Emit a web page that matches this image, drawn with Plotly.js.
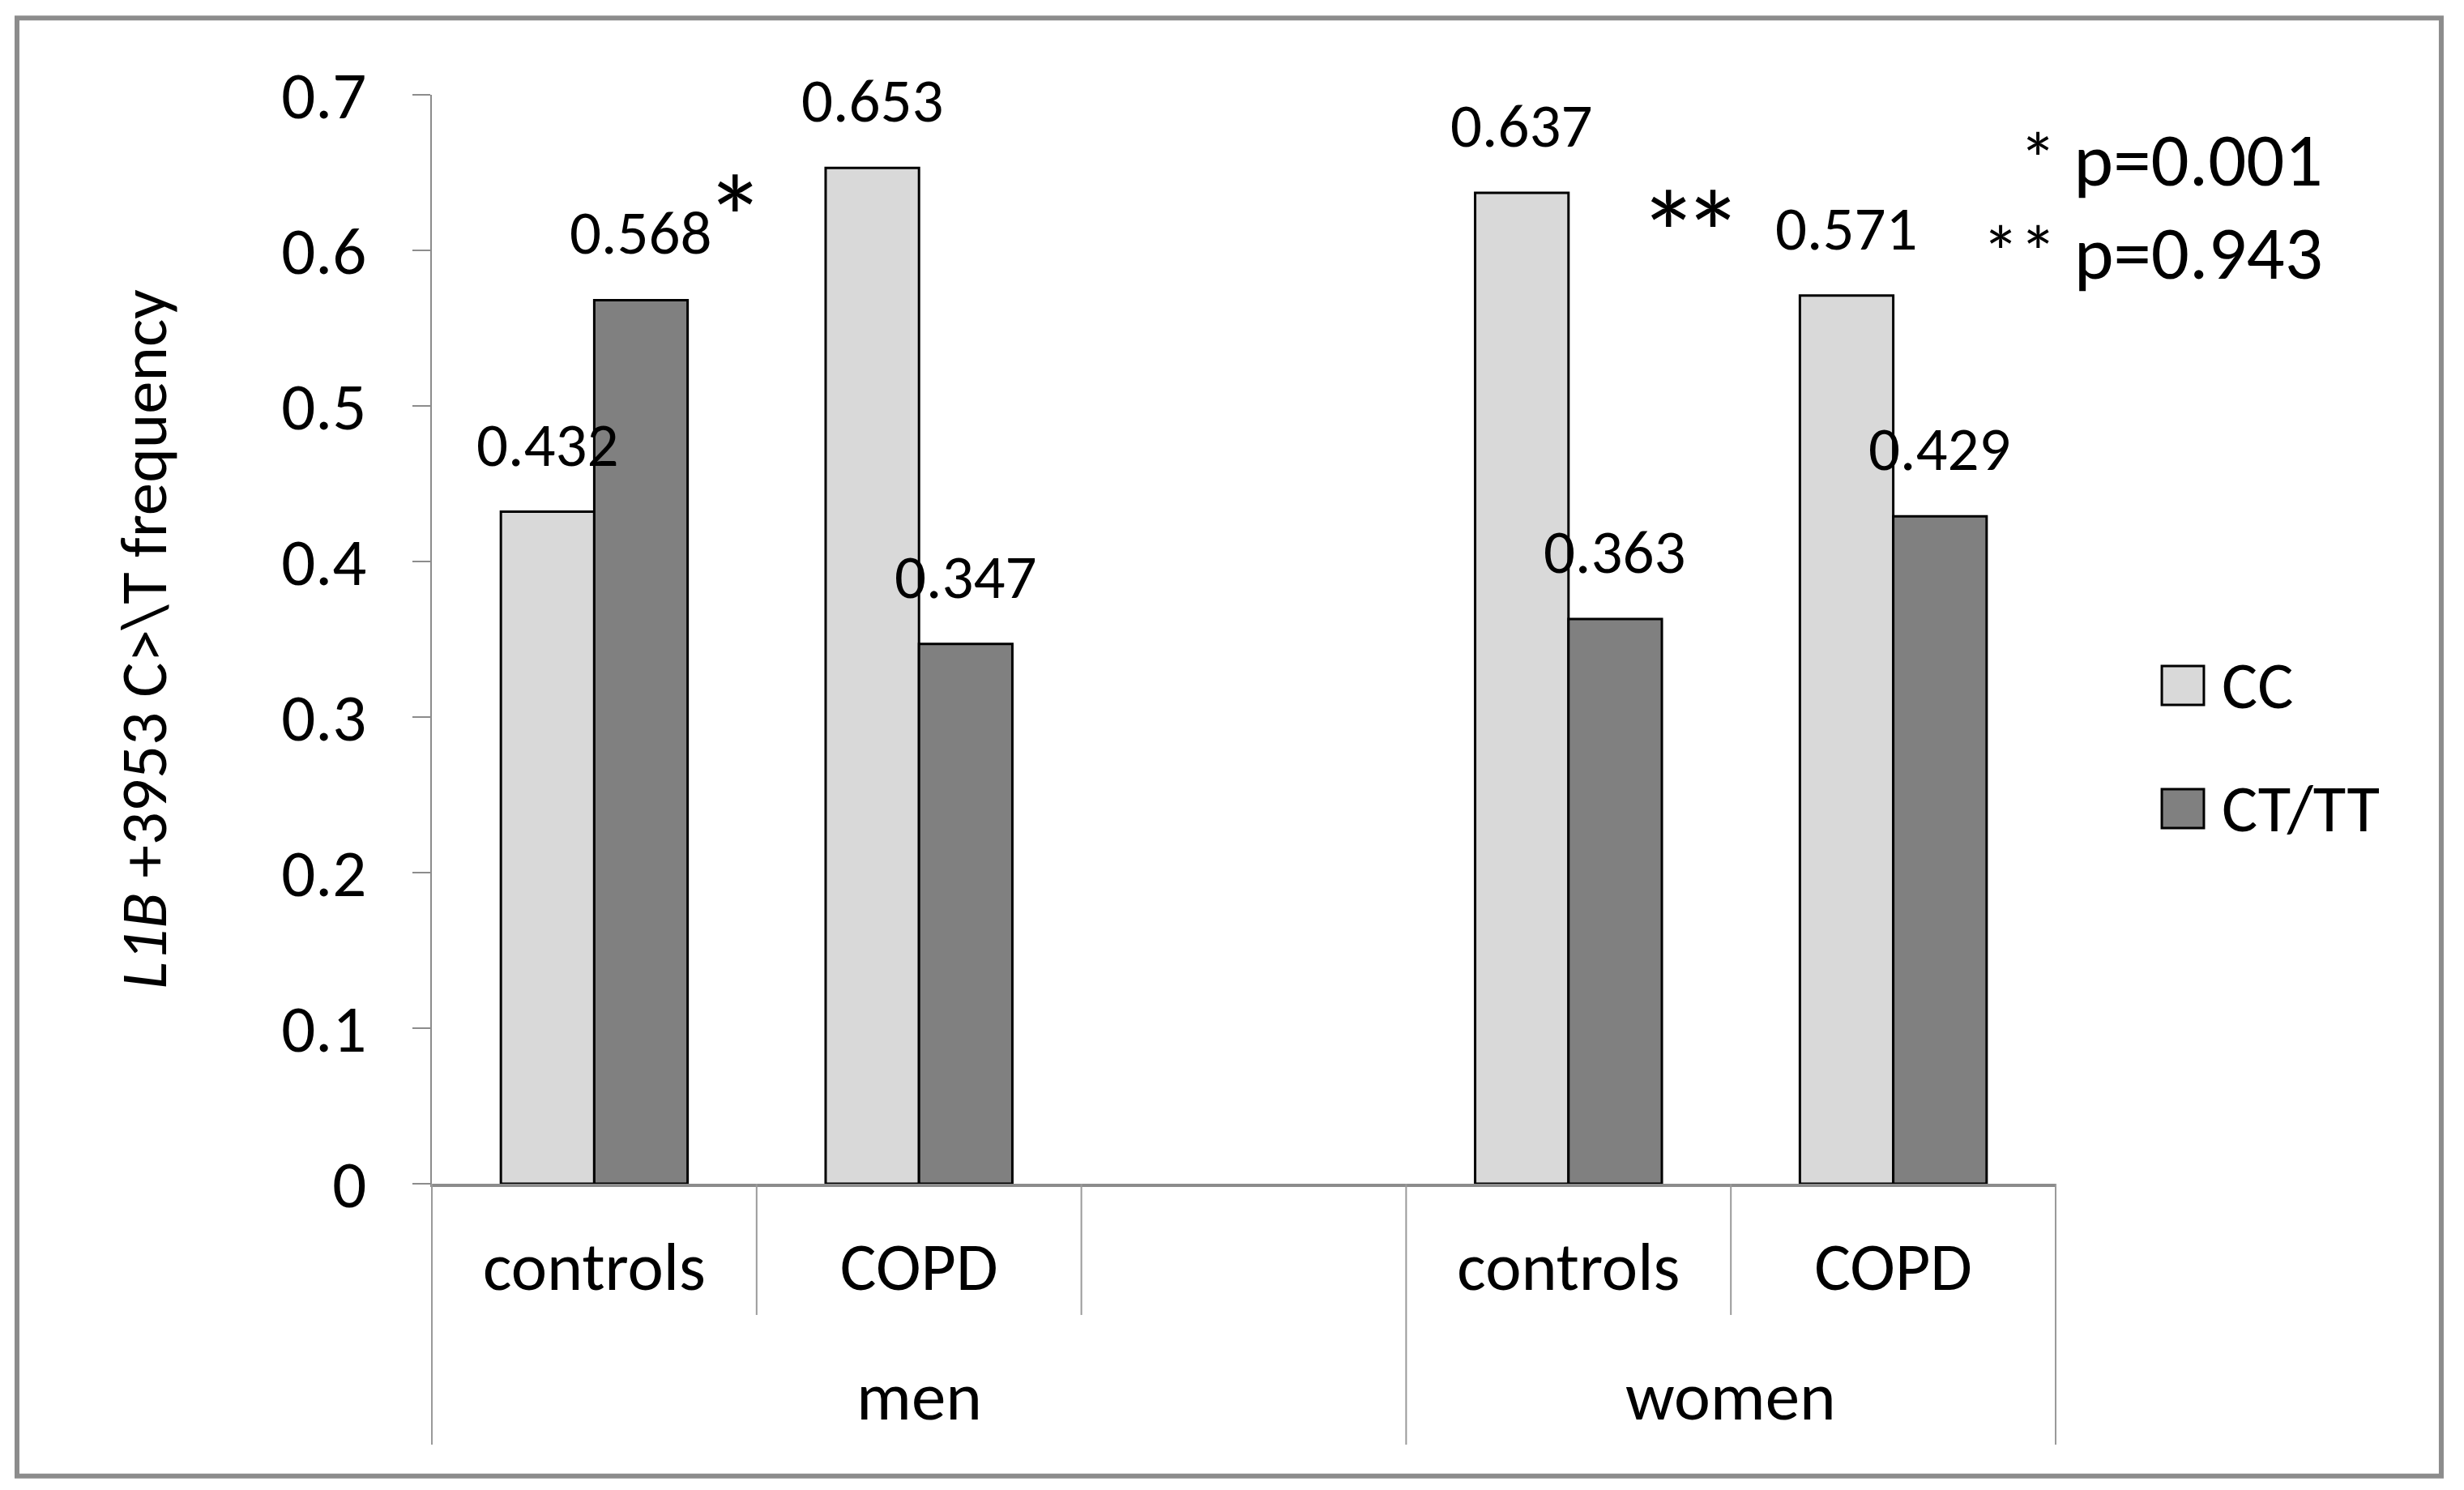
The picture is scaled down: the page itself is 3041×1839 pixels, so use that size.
<!DOCTYPE html>
<html>
<head>
<meta charset="utf-8">
<script src="https://cdn.plot.ly/plotly-3.0.1.min.js"></script>
<style>html,body{margin:0;padding:0;background:#fff;}#chart{width:3041px;height:1839px;}</style>
</head>
<body>
<div id="chart"></div>
<script>
// ---- data ----
const categories = ["controls", "COPD", "", "controls", "COPD"];
const groups = ["men", "men", "men", "women", "women"];
const seriesNames = ["CC", "CT/TT"];
const ccValues = [0.432, 0.653, null, 0.637, 0.571];
const ctValues = [0.568, 0.347, null, 0.363, 0.429];
const yTickVals = [0, 0.1, 0.2, 0.3, 0.4, 0.5, 0.6, 0.7];
const yTickText = ["0", "0.1", "0.2", "0.3", "0.4", "0.5", "0.6", "0.7"];
const pValueNotes = ["* p=0.001", "** p=0.943"];
const yTitle = "<i>L1B</i> +3953 C>\\T frequency";

// ---- styles ----
const FONT = "Carlito, Lato, 'Open Sans', sans-serif";
const colors = ["#d9d9d9", "#808080"];
const bargap = 0.425;
const xIdx = categories.map((_, i) => i);
const xRange = [-0.5, categories.length - 0.5];
const barW = (1 - bargap) / 2;

const seriesValues = [ccValues, ctValues];
const traces = seriesValues.map((vals, s) => ({
  type: "bar",
  name: seriesNames[s],
  x: xIdx,
  y: vals,
  marker: { color: colors[s], line: { color: "#000", width: 3 } },
  showlegend: false,
  hoverinfo: "skip"
}));

const annotations = [];
// value labels
seriesValues.forEach((vals, s) => {
  vals.forEach((v, i) => {
    if (v === null) return;
    annotations.push({
      x: i + (s === 0 ? -1 : 1) * barW / 2, y: v, xref: "x", yref: "y",
      xanchor: "center", yanchor: "middle",
      text: v.toFixed(3), showarrow: false, yshift: 83,
      font: { family: FONT, size: 77, color: "#000" }
    });
  });
});
// significance markers
annotations.push({ x: 0.435, y: 0.62, xref: "x", yref: "y", xanchor: "center", yanchor: "middle",
  text: "*", showarrow: false, font: { family: FONT, size: 150, color: "#000" } });
annotations.push({ x: 3.3575, y: 0.61, xref: "x", yref: "y", xanchor: "center", yanchor: "middle",
  text: '<span style="letter-spacing:-20px">**</span>', showarrow: false,
  font: { family: FONT, size: 150, color: "#000" } });
// p-value notes
[0.9405, 0.855].forEach((yy, k) => annotations.push({
  x: 1.1657, y: yy, xref: "paper", yref: "paper", xanchor: "right", yanchor: "middle",
  text: pValueNotes[k], showarrow: false, font: { family: FONT, size: 93, color: "#000" }
}));
// group labels
const groupNames = [...new Set(groups)];
groupNames.forEach(g => {
  const idx = xIdx.filter(i => groups[i] === g);
  const center = (idx[0] + idx[idx.length - 1]) / 2;
  annotations.push({ x: center, y: -0.195, xref: "x", yref: "paper", xanchor: "center", yanchor: "middle",
    text: g, showarrow: false, font: { family: FONT, size: 85, color: "#000" } });
});
// manual legend text
const legendY = [0.4576, 0.3445];
seriesNames.forEach((n, s) => annotations.push({
  x: 1.1013, y: legendY[s], xref: "paper", yref: "paper", xanchor: "left", yanchor: "middle",
  text: n, showarrow: false, font: { family: FONT, size: 83, color: "#000" }
}));

const shapes = [];
// category dividers below axis
const toPaper = v => (v - xRange[0]) / (xRange[1] - xRange[0]);
for (let b = 0; b <= categories.length; b++) {
  const isGroup = b === 0 || b === categories.length || groups[b] !== groups[b - 1];
  const xp = toPaper(b - 0.5);
  shapes.push({ type: "line", xref: "paper", yref: "paper", x0: xp, x1: xp, y0: 0,
    y1: isGroup ? -0.2396 : -0.1205, line: { color: "#9a9a9a", width: 2 } });
}
// legend swatches
const swY = [[0.4397, 0.4754], [0.3266, 0.3624]];
seriesNames.forEach((n, s) => shapes.push({
  type: "rect", xref: "paper", yref: "paper", x0: 1.0654, x1: 1.0913, y0: swY[s][0], y1: swY[s][1],
  fillcolor: colors[s], line: { color: "#000", width: 3 }
}));
// outer frame
shapes.push({ type: "rect", xref: "paper", yref: "paper", x0: -0.2555, x1: 1.2375, y0: -0.2685, y1: 1.0705,
  line: { color: "#8c8c8c", width: 6 }, fillcolor: "rgba(0,0,0,0)" });

const layout = {
  width: 3041, height: 1839,
  margin: { l: 533, r: 504, t: 117, b: 378 },
  paper_bgcolor: "#fff", plot_bgcolor: "#fff",
  barmode: "group", bargap: bargap, bargroupgap: 0,
  showlegend: false,
  font: { family: FONT, color: "#000" },
  xaxis: {
    type: "linear", range: xRange, tickvals: xIdx, ticktext: categories,
    ticks: "", showgrid: false, zeroline: false,
    showline: true, linecolor: "#8c8c8c", linewidth: 4,
    tickfont: { family: FONT, size: 84, color: "#000" }, ticklabelstandoff: 26
  },
  yaxis: {
    range: [0, 0.7], tickvals: yTickVals, ticktext: yTickText,
    ticks: "outside", ticklen: 22, tickwidth: 2, tickcolor: "#8c8c8c",
    showgrid: false, zeroline: false, showline: true, linecolor: "#8c8c8c", linewidth: 2,
    tickfont: { family: FONT, size: 83, color: "#000" }, ticklabelstandoff: 40,
    title: { text: yTitle, font: { family: FONT, size: 81, color: "#000" }, standoff: 115 }
  },
  annotations: annotations,
  shapes: shapes
};

Plotly.newPlot("chart", traces, layout, { staticPlot: true, displayModeBar: false });
</script>
</body>
</html>
